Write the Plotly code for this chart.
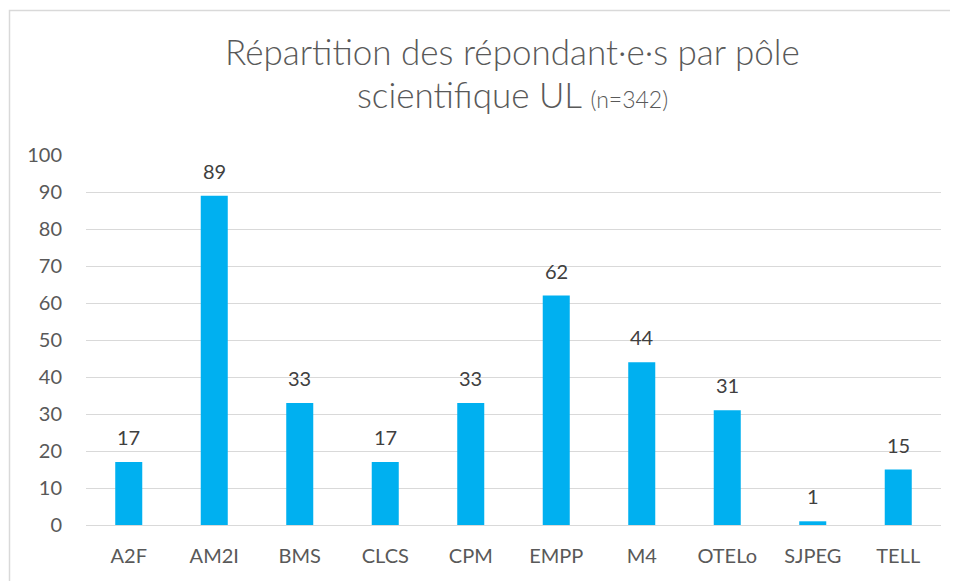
import plotly.graph_objects as go

poles = ['A2F', 'AM2I', 'BMS', 'CLCS', 'CPM', 'EMPP', 'M4', 'OTELo', 'SJPEG', 'TELL']
counts = [17, 89, 33, 17, 33, 62, 44, 31, 1, 15]
y_ticks = list(range(0, 101, 10))

# the page body adds an 8px offset, so target pixel positions are shifted by -8
OFF = 8
W, H = 958, 581
L, R, T, B = 86 - OFF, 17 + OFF, 155 - OFF, 56 + OFF
pw, ph = W - L - R, H - T - B

def px(x):
    return (x - OFF - L) / pw

def py(y):
    return (H - B - (y - OFF)) / ph

font = 'Lato, Calibri, sans-serif'

fig = go.Figure(go.Bar(
    x=poles,
    y=counts,
    marker=dict(color='#00B0F0', line=dict(width=0)),
    hoverinfo='x+y',
))

# data labels above each bar
for p, c in zip(poles, counts):
    fig.add_annotation(x=p, y=c, text=str(c), showarrow=False,
                       yanchor='bottom', yshift=11,
                       font=dict(size=20, color='#404040', family=font))

# title (two lines, second one with smaller "(n=342)")
title_font = dict(size=35, color='#595959', family=font, weight=300)
fig.add_annotation(xref='paper', yref='paper', x=px(512), y=py(51), yanchor='middle',
                   text='Répartition des répondant·e·s par pôle', showarrow=False,
                   font=title_font)
fig.add_annotation(xref='paper', yref='paper', x=px(512), y=py(94), yanchor='middle',
                   text="scientifique UL <span style='font-size:23px'>(n=342)</span>",
                   showarrow=False, font=title_font)

fig.update_layout(
    width=W, height=H,
    margin=dict(l=L, r=R, t=T, b=B),
    paper_bgcolor='white', plot_bgcolor='white',
    bargap=0.684,
    showlegend=False,
    font=dict(family=font, color='#595959', size=20),
    xaxis=dict(showgrid=False, showline=False, ticks='', ticklabelstandoff=17,
               tickfont=dict(size=20, color='#595959')),
    yaxis=dict(range=[0, 100], tickvals=y_ticks, showgrid=True, gridcolor='#D9D9D9',
               gridwidth=1, zeroline=True, zerolinecolor='#D9D9D9', zerolinewidth=1,
               showline=False, ticks='', ticklabelstandoff=23,
               tickfont=dict(size=20, color='#595959')),
    shapes=[dict(type='rect', xref='paper', yref='paper',
                 x0=px(9.5), x1=px(W + 20), y0=py(H + 20), y1=py(10.5),
                 line=dict(color='#D9D9D9', width=1.5), fillcolor='rgba(0,0,0,0)', layer='below')],
)

fig.write_html("out.html")
